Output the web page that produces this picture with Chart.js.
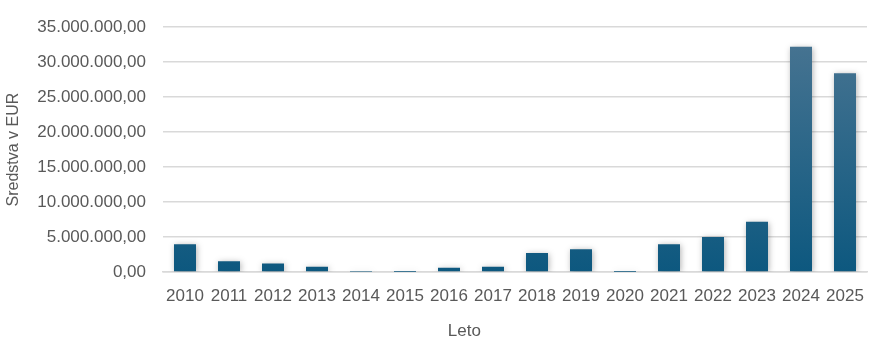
<!DOCTYPE html>
<html>
<head>
<meta charset="utf-8">
<script src="https://cdn.jsdelivr.net/npm/chart.js@4/dist/chart.umd.min.js"></script>
<style>
  html, body { margin: 0; padding: 0; background: #fff; }
  #wrap { width: 879px; height: 343px; }
</style>
</head>
<body>
<div id="wrap"><canvas id="chart" width="879" height="343"></canvas></div>
<script>
const years = ["2010", "2011", "2012", "2013", "2014", "2015", "2016", "2017",
  "2018", "2019", "2020", "2021", "2022", "2023", "2024", "2025"]
const funds = [3950000, 1550000, 1200000, 750000, 20000, 10000, 600000, 750000,
  2700000, 3250000, 5000, 3950000, 5000000, 7200000, 32200000, 28400000]
const yTitle = "Sredstva v EUR"
const xTitle = "Leto"

function fmtEur(v) {
  const s = Math.round(v).toString().replace(/\B(?=(\d{3})+(?!\d))/g, ".")
  return s + ",00"
}

const font = "'Liberation Sans', Arial, sans-serif"
const grey = "#595959"

const barShadow = {
  id: "barShadow",
  beforeDatasetsDraw(chart) {
    const ctx = chart.ctx
    ctx.save()
    ctx.shadowColor = "rgba(0,0,0,0.3)"
    ctx.shadowBlur = 6
    ctx.shadowOffsetX = 1
    ctx.shadowOffsetY = 1
  },
  afterDatasetsDraw(chart) {
    chart.ctx.restore()
  }
}

// x title sits left of the plot centre in the original
const xTitlePlugin = {
  id: "xTitlePlugin",
  afterDraw(chart) {
    const ctx = chart.ctx
    const a = chart.chartArea
    ctx.save()
    ctx.fillStyle = grey
    ctx.font = "17px " + font
    ctx.textAlign = "center"
    ctx.textBaseline = "middle"
    ctx.fillText(xTitle, a.left + a.width * 0.428, chart.height - 12)
    ctx.restore()
  }
}

function barFill(context) {
  const area = context.chart.chartArea
  if (!area) return "#1a5c80"
  const bar = context.element
  const top = bar && bar.y !== undefined && !isNaN(bar.y) ? bar.y : area.top
  const bottom = area.bottom
  if (bottom - top < 1) return "#1a5c80"
  const g = context.chart.ctx.createLinearGradient(0, top, 0, bottom)
  g.addColorStop(0, "#4a7592")
  g.addColorStop(1, "#0d587f")
  return g
}

new Chart(document.getElementById("chart"), {
  type: "bar",
  data: {
    labels: years,
    datasets: [{
      data: funds,
      backgroundColor: barFill,
      borderWidth: 0,
      barPercentage: 0.5,
      categoryPercentage: 1
    }]
  },
  plugins: [barShadow, xTitlePlugin],
  options: {
    responsive: false,
    animation: false,
    layout: { padding: { top: 14, right: 12, left: 0, bottom: 0 } },
    plugins: { legend: { display: false }, tooltip: { enabled: false } },
    scales: {
      x: {
        grid: { display: false, drawTicks: false },
        border: { color: "#d9d9d9", width: 1.5 },
        ticks: { color: grey, font: { family: font, size: 17 }, padding: 14, maxRotation: 0, autoSkip: false },
        afterFit(scale) { scale.height = 71 }
      },
      y: {
        min: 0,
        max: 35000000,
        grid: { color: "#d9d9d9", lineWidth: 1.5, drawTicks: false },
        border: { display: false },
        ticks: { stepSize: 5000000, color: grey, font: { family: font, size: 17 }, padding: 17, callback: v => fmtEur(v) },
        title: { display: true, text: yTitle, color: grey, font: { family: font, size: 16 }, padding: { top: 4, bottom: 4 } },
        afterFit(scale) { scale.width = 163 }
      }
    }
  }
})
</script>
</body>
</html>
